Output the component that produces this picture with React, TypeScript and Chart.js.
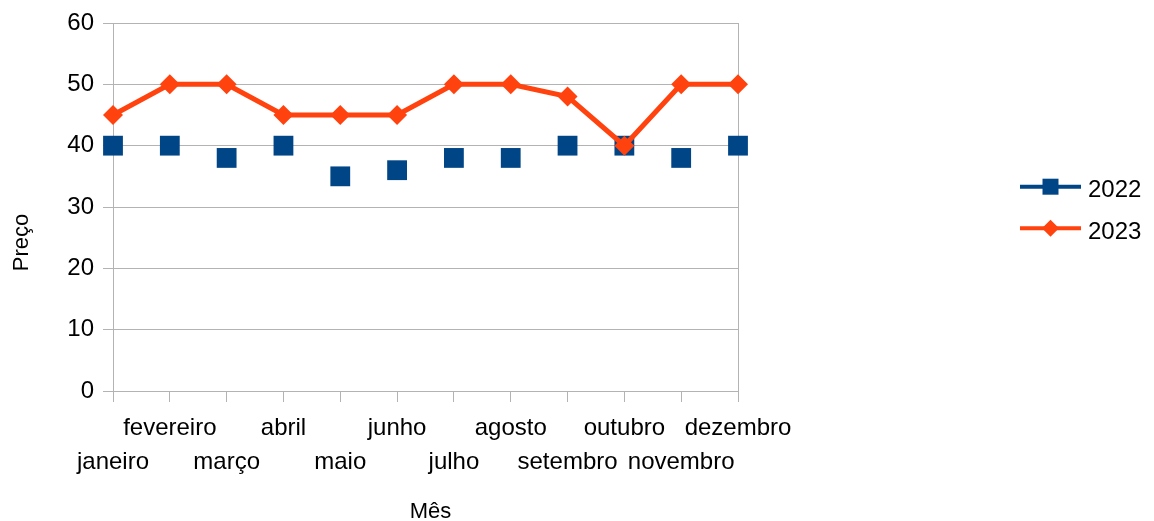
import React, { useEffect, useRef } from 'react';
import { Chart, registerables } from 'chart.js';

Chart.register(...registerables);

const months = ['janeiro', 'fevereiro', 'março', 'abril', 'maio', 'junho', 'julho', 'agosto', 'setembro', 'outubro', 'novembro', 'dezembro'];
const series2022 = [40, 40, 38, 40, 35, 36, 38, 38, 40, 40, 38, 40];
const series2023 = [45, 50, 50, 45, 45, 45, 50, 50, 48, 40, 50, 50];
const seriesLabels = ['2022', '2023'];
const seriesColors = ['#004586', '#ff420e'];
const yMin = 0;
const yMax = 60;
const yStep = 10;
const xTitle = 'Mês';
const yTitle = 'Preço';

const FONT = "'Liberation Sans', Arial, sans-serif";
const GRID = '#b3b3b3';

const overlayPlugin = {
  id: 'overlay',
  afterDraw(chart: any) {
    const { ctx, chartArea, height } = chart;
    ctx.save();
    ctx.fillStyle = '#000';
    // axis titles
    ctx.font = `22px ${FONT}`;
    ctx.textAlign = 'center';
    ctx.textBaseline = 'alphabetic';
    ctx.fillText(xTitle, (chartArea.left + chartArea.right) / 2 + 5, height - 3);
    ctx.save();
    ctx.translate(20, 234.5);
    ctx.rotate(-Math.PI / 2);
    ctx.fillText(yTitle, 0, 0);
    ctx.restore();

    // legend
    const lx0 = 1012;
    const lx1 = 1073;
    const cx = (lx0 + lx1) / 2;
    chart.data.datasets.forEach((ds: any, i: number) => {
      const y = 178.7 + i * 41.5;
      const color = ds.borderColor;
      ctx.strokeStyle = color;
      ctx.fillStyle = color;
      ctx.lineWidth = 4;
      ctx.beginPath();
      ctx.moveTo(lx0, y);
      ctx.lineTo(lx1, y);
      ctx.stroke();
      ctx.beginPath();
      if (ds.pointStyle === 'rect') {
        ctx.rect(cx - 8, y - 8, 16, 16);
      } else {
        ctx.moveTo(cx - 8.5, y);
        ctx.lineTo(cx, y - 8.5);
        ctx.lineTo(cx + 8.5, y);
        ctx.lineTo(cx, y + 8.5);
        ctx.closePath();
      }
      ctx.fill();
      ctx.fillStyle = '#000';
      ctx.font = `24px ${FONT}`;
      ctx.textAlign = 'left';
      ctx.textBaseline = 'alphabetic';
      ctx.fillText(ds.label, 1080, y + 10.6);
    });
    ctx.restore();
  },
};

export default function App() {
  const ref = useRef<HTMLCanvasElement | null>(null);

  useEffect(() => {
    if (!ref.current) return;
    const chart = new Chart(ref.current, {
      type: 'line',
      data: {
        labels: months,
        datasets: [
          {
            label: seriesLabels[0],
            data: series2022,
            borderColor: seriesColors[0],
            backgroundColor: seriesColors[0],
            showLine: false,
            pointStyle: 'rect',
            pointRadius: 14,
            pointBorderWidth: 0,
            order: 1,
          },
          {
            label: seriesLabels[1],
            data: series2023,
            borderColor: seriesColors[1],
            backgroundColor: seriesColors[1],
            borderWidth: 5,
            tension: 0,
            pointStyle: 'rectRot',
            pointRadius: 10,
            pointBorderWidth: 0,
            order: 0,
          },
        ],
      },
      options: {
        animation: false,
        responsive: true,
        maintainAspectRatio: false,
        events: [],
        layout: { padding: { top: 15, right: 408, left: 0, bottom: 0 } },
        plugins: {
          legend: { display: false },
          tooltip: { enabled: false },
        },
        scales: {
          x: {
            type: 'category',
            offset: false,
            afterFit: (scale: any) => {
              scale.height = 130;
            },
            grid: {
              drawOnChartArea: true,
              drawTicks: true,
              tickLength: 11,
              color: (c: any) => (c.index === months.length - 1 ? GRID : 'rgba(0,0,0,0)'),
              tickColor: GRID,
              lineWidth: 1,
            },
            border: { display: true, color: GRID },
            ticks: {
              autoSkip: false,
              maxRotation: 0,
              minRotation: 0,
              padding: 9,
              color: '#000',
              font: { family: FONT, size: 24, lineHeight: 34 / 24 },
              callback: (_v: any, i: number) => (i % 2 === 0 ? ['', months[i]] : [months[i], '']),
            },
          },
          y: {
            min: yMin,
            max: yMax,
            afterFit: (scale: any) => {
              scale.width = 105;
            },
            grid: { color: GRID, tickLength: 10, lineWidth: 1 },
            border: { display: true, color: GRID },
            ticks: {
              stepSize: yStep,
              padding: 9,
              color: '#000',
              font: { family: FONT, size: 24, lineHeight: 0.5 },
            },
          },
        },
      },
      plugins: [overlayPlugin],
    });
    return () => chart.destroy();
  }, []);

  return (
    <div style={{ position: 'fixed', left: 8, top: 8, width: 1138, height: 513 }}>
      <canvas ref={ref} />
    </div>
  );
}
